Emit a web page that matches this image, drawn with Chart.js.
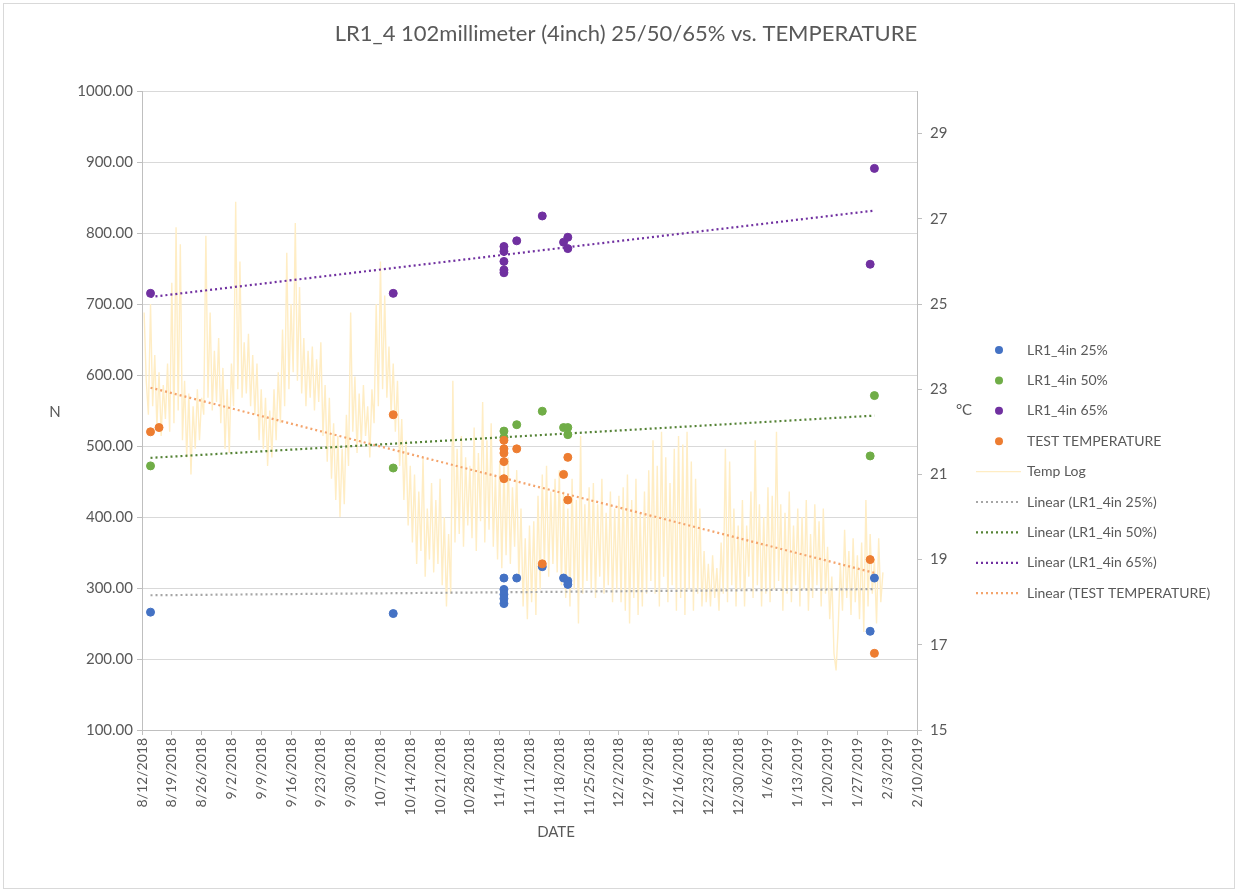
<!DOCTYPE html>
<html lang="en">
<head>
  <meta charset="UTF-8">
  <title>LR1_4 102millimeter (4inch) 25/50/65% vs. TEMPERATURE</title>
  <script src="https://cdn.jsdelivr.net/npm/chart.js@4.4.0/dist/chart.umd.min.js"></script>
  <style>
    html, body { margin: 0; padding: 0; background: #fff; }
    #wrap { position: relative; width: 1238px; height: 892px; }
  </style>
</head>
<body>
  <div id="wrap"><canvas id="chart"></canvas></div>
  <script>
    // Break strength per mix (N) on each test date
    const dates25 = ['8/14/2018', '10/10/2018', '11/5/2018', '11/5/2018', '11/5/2018', '11/5/2018', '11/5/2018',
      '11/8/2018', '11/14/2018', '11/19/2018', '11/20/2018', '11/20/2018', '1/30/2019', '1/31/2019'];
    const n25 = [266, 264, 314, 298, 291, 285, 278, 314, 330, 314, 310, 305, 239, 314];

    const dates50 = ['8/14/2018', '10/10/2018', '11/5/2018', '11/5/2018', '11/8/2018', '11/14/2018',
      '11/19/2018', '11/20/2018', '11/20/2018', '1/30/2019', '1/31/2019'];
    const n50 = [472, 469, 521, 512, 530, 549, 526, 526, 516, 486, 571];

    const dates65 = ['8/14/2018', '10/10/2018', '11/5/2018', '11/5/2018', '11/5/2018', '11/5/2018', '11/5/2018',
      '11/8/2018', '11/14/2018', '11/19/2018', '11/20/2018', '11/20/2018', '1/30/2019', '1/31/2019'];
    const n65 = [715, 715, 781, 774, 760, 748, 744, 789, 824, 787, 794, 778, 756, 891];

    // Room temperature at the time of each test (°C)
    const tempDates = ['8/14/2018', '8/16/2018', '10/10/2018', '11/5/2018', '11/5/2018', '11/5/2018', '11/5/2018',
      '11/5/2018', '11/8/2018', '11/14/2018', '11/19/2018', '11/20/2018', '11/20/2018', '1/30/2019', '1/31/2019'];
    const testTemps = [22.0, 22.1, 22.4, 21.8, 21.6, 21.5, 21.3, 20.9, 21.6, 18.9, 21.0, 21.4, 20.4, 19.0, 16.8];

    // Logger readings, twice a day from 8/12/2018 noon (°C), one week per row
    const logStart = '8/12/2018';
    const logStepDays = 0.5;
    const logTemps = [
      24.8, 23.2, 22.4, 25.0, 22.6, 23.8, 22.1, 23.4, 21.9, 23.1, 22.3, 23.6, 22.0, 25.5,
      22.2, 26.8, 22.5, 26.4, 21.8, 23.2, 21.4, 22.9, 21.0, 22.6, 21.6, 23.0, 21.8, 22.8,
      22.4, 26.6, 22.8, 24.8, 22.5, 23.9, 22.7, 24.2, 22.2, 23.5, 21.6, 23.0, 21.5, 23.6,
      22.6, 27.4, 23.0, 26.0, 22.8, 24.1, 22.9, 24.3, 22.6, 23.8, 22.4, 23.6, 21.8, 23.0,
      21.6, 22.8, 21.2, 22.5, 21.4, 23.0, 21.8, 23.4, 22.2, 24.4, 22.6, 26.2, 23.0, 25.0,
      23.4, 26.9, 23.2, 25.4, 22.9, 24.2, 22.6, 23.9, 22.8, 24.0, 22.5, 23.7, 22.7, 24.1,
      21.9, 23.1, 21.3, 22.8, 20.9, 22.2, 20.4, 21.9, 20.0, 21.6, 20.3, 22.4, 21.2, 24.8,
      22.0, 23.3, 21.5, 22.9, 21.7, 23.1, 21.9, 22.6, 21.4, 23.0, 22.2, 25.0, 22.6, 26.0,
      23.0, 25.2, 22.8, 24.0, 22.4, 23.6, 22.0, 23.2, 21.2, 22.3, 20.4, 21.8, 19.8, 21.2,
      19.4, 21.0, 18.9, 20.6, 19.2, 21.4, 18.6, 20.2, 19.0, 20.8, 18.7, 20.4, 18.9, 20.9,
      18.4, 20.0, 17.9, 19.6, 18.2, 23.2, 19.4, 21.6, 19.6, 21.9, 19.3, 21.4, 19.8, 21.2,
      19.5, 22.1, 19.2, 21.5, 19.9, 22.7, 19.4, 21.8, 19.7, 22.2, 19.3, 21.0, 19.0, 21.3,
      18.8, 21.2, 19.1, 21.4, 18.9, 20.7, 19.3, 21.1, 18.5, 20.2, 17.9, 19.5, 17.6, 19.8,
      18.0, 19.9, 17.7, 20.5, 18.3, 21.0, 18.8, 21.2, 18.6, 20.6, 18.9, 20.9, 18.7, 21.1,
      18.4, 20.6, 18.1, 20.2, 17.9, 20.9, 18.3, 20.4, 17.5, 21.9, 18.2, 20.3, 18.5, 20.7,
      18.3, 20.8, 18.1, 20.3, 18.6, 20.9, 18.2, 20.1, 18.4, 20.6, 18.0, 20.2, 18.3, 20.5,
      18.0, 20.7, 17.8, 21.0, 17.5, 20.4, 18.1, 20.9, 17.7, 20.1, 17.9, 20.6, 18.2, 21.1,
      18.5, 21.8, 18.2, 21.2, 17.9, 22.0, 18.6, 21.4, 18.0, 20.8, 18.4, 21.6, 17.8, 21.9,
      18.1, 21.7, 17.7, 22.0, 18.3, 21.3, 17.8, 20.9, 18.2, 20.2, 17.9, 19.2, 18.0, 18.9,
      17.9, 19.1, 18.1, 18.8, 17.8, 19.4, 18.2, 21.6, 18.0, 21.3, 18.4, 20.2, 17.9, 19.8,
      18.3, 20.4, 17.9, 19.8, 18.6, 20.6, 18.1, 21.8, 18.4, 20.3, 17.9, 20.0, 18.2, 20.7,
      18.0, 20.5, 18.3, 22.0, 18.5, 20.3, 17.8, 20.1, 18.2, 20.6, 18.0, 19.8, 18.4, 20.2,
      17.9, 20.0, 18.3, 20.4, 17.8, 19.6, 18.1, 20.3, 18.4, 19.9, 17.9, 20.2, 18.2, 19.3,
      17.6, 18.6, 16.8, 16.4, 17.4, 18.9, 17.8, 19.7, 18.1, 19.2, 17.7, 19.5, 18.0, 19.1,
      17.6, 19.4, 17.3, 20.4, 17.9, 19.6, 18.2, 19.0, 17.5, 19.5, 18.0, 18.7
    ];

    const axisStart = '8/12/2018';
    const axisEnd = '2/10/2019';
    const tempTicks = [15, 17, 19, 21, 23, 25, 27, 29];

    const TEXT = '#595959';
    const FONT = 'Lato, "Open Sans", sans-serif';

    // Excel-style day serials so the x axis steps in whole days
    function serial(str) {
      const [m, d, y] = str.split('/').map(Number);
      return Date.UTC(y, m - 1, d) / 86400000 + 25569;
    }
    function fmtDate(s) {
      const d = new Date((s - 25569) * 86400000);
      return (d.getUTCMonth() + 1) + '/' + d.getUTCDate() + '/' + d.getUTCFullYear();
    }
    function points(dates, vals) {
      return dates.map((d, i) => ({ x: serial(d), y: vals[i] }));
    }
    // least-squares line across the range of the series
    function trend(pts) {
      const n = pts.length;
      const mx = pts.reduce((s, p) => s + p.x, 0) / n;
      const my = pts.reduce((s, p) => s + p.y, 0) / n;
      let sxy = 0, sxx = 0;
      pts.forEach(p => { sxy += (p.x - mx) * (p.y - my); sxx += (p.x - mx) ** 2; });
      const b = sxy / sxx, a = my - b * mx;
      const x0 = Math.min(...pts.map(p => p.x)), x1 = Math.max(...pts.map(p => p.x));
      return [{ x: x0, y: a + b * x0 }, { x: x1, y: a + b * x1 }];
    }

    const p25 = points(dates25, n25);
    const p50 = points(dates50, n50);
    const p65 = points(dates65, n65);
    const pTemp = points(tempDates, testTemps);
    const logPts = logTemps.map((t, i) => ({ x: serial(logStart) + logStepDays * (i + 1), y: t }));

    function dots(label, data, color, axis, order) {
      return { label, data, yAxisID: axis, order, backgroundColor: color, borderColor: color,
        pointRadius: 4, pointBorderWidth: 1, showLine: false };
    }
    function trendLine(label, data, color, axis) {
      return { label, data, yAxisID: axis, order: 5, borderColor: color, borderWidth: 2.2,
        borderDash: [2, 3], pointRadius: 0, showLine: true, fill: false };
    }

    const datasets = [
      dots('LR1_4in 25%', p25, '#4472c4', 'y', 4),
      dots('LR1_4in 50%', p50, '#70ad47', 'y', 3),
      dots('LR1_4in 65%', p65, '#7030a0', 'y', 2),
      dots('TEST TEMPERATURE', pTemp, '#ed7d31', 'y2', 1),
      { label: 'Temp Log', data: logPts, yAxisID: 'y2', order: 6, borderColor: '#ffedc4',
        borderWidth: 1.4, pointRadius: 0, showLine: true, fill: false },
      trendLine('Linear (LR1_4in 25%)', trend(p25), '#a5a5a5', 'y'),
      trendLine('Linear (LR1_4in 50%)', trend(p50), '#548235', 'y'),
      trendLine('Linear (LR1_4in 65%)', trend(p65), '#7030a0', 'y'),
      trendLine('Linear (TEST TEMPERATURE)', trend(pTemp), '#f4a46c', 'y2')
    ];

    // title, axis captions, frame and legend are placed by hand like the workbook chart
    const decor = {
      id: 'decor',
      beforeDraw(chart) {
        const ctx = chart.ctx;
        ctx.save();
        ctx.fillStyle = '#fff';
        ctx.fillRect(0, 0, chart.width, chart.height);
        ctx.strokeStyle = '#d9d9d9';
        ctx.lineWidth = 1;
        ctx.strokeRect(3.5, 3.5, chart.width - 7, chart.height - 7);
        ctx.restore();
      },
      afterDraw(chart) {
        const ctx = chart.ctx;
        const area = chart.chartArea;
        ctx.save();
        ctx.fillStyle = TEXT;
        ctx.textBaseline = 'middle';
        ctx.textAlign = 'center';
        ctx.font = '22px ' + FONT;
        ctx.fillText('LR1_4 102millimeter (4inch) 25/50/65% vs. TEMPERATURE', 626, 34);
        ctx.font = '15px ' + FONT;
        const midY = (area.top + area.bottom) / 2;
        ctx.fillText('N', 55, midY + 2);
        ctx.fillText('°C', 964, midY);
        ctx.fillText('DATE', 556, 832);

        ctx.textAlign = 'left';
        ctx.font = '14px ' + FONT;
        chart.data.datasets.forEach((ds, i) => {
          const y = 350 + i * 30.4;
          if (ds.showLine) {
            ctx.beginPath();
            ctx.strokeStyle = ds.borderColor;
            ctx.lineWidth = ds.borderWidth;
            ctx.setLineDash(ds.borderDash || []);
            ctx.moveTo(976, y);
            ctx.lineTo(1021, y);
            ctx.stroke();
            ctx.setLineDash([]);
          } else {
            ctx.beginPath();
            ctx.fillStyle = ds.backgroundColor;
            ctx.arc(999, y, 4, 0, Math.PI * 2);
            ctx.fill();
          }
          ctx.fillStyle = TEXT;
          ctx.fillText(ds.label, 1027, y);
        });
        ctx.restore();
      }
    };

    Chart.defaults.font.family = FONT;
    Chart.defaults.color = TEXT;

    new Chart(document.getElementById('chart'), {
      type: 'scatter',
      data: { datasets },
      plugins: [decor],
      options: {
        responsive: true,
        maintainAspectRatio: false,
        animation: false,
        layout: { padding: { top: 91, right: 281, bottom: 0, left: 0 } },
        plugins: {
          legend: { display: false },
          title: { display: false },
          tooltip: { enabled: false }
        },
        scales: {
          x: {
            type: 'linear',
            position: 'bottom',
            min: serial(axisStart),
            max: serial(axisEnd),
            afterFit: s => { s.height = 162; },
            ticks: {
              stepSize: 7, autoSkip: false, minRotation: 90, maxRotation: 90,
              font: { size: 14 }, padding: 3,
              callback: v => fmtDate(v)
            },
            grid: { drawOnChartArea: false, color: '#bfbfbf', tickLength: 5 },
            border: { color: '#bfbfbf' }
          },
          y: {
            position: 'left',
            min: 100,
            max: 1000,
            afterFit: s => { s.width = 142; },
            ticks: { stepSize: 100, font: { size: 15 }, padding: 4, callback: v => v.toFixed(2) },
            grid: { color: '#d9d9d9', tickColor: '#bfbfbf', tickLength: 5 },
            border: { color: '#bfbfbf' }
          },
          y2: {
            position: 'right',
            min: 15,
            max: 30,
            afterFit: s => { s.width = 40; },
            afterBuildTicks: s => { s.ticks = tempTicks.map(v => ({ value: v })); },
            ticks: { font: { size: 15 }, padding: 8 },
            grid: { drawOnChartArea: false, color: '#bfbfbf', tickLength: 5 },
            border: { color: '#bfbfbf' }
          }
        }
      }
    });
  </script>
</body>
</html>
